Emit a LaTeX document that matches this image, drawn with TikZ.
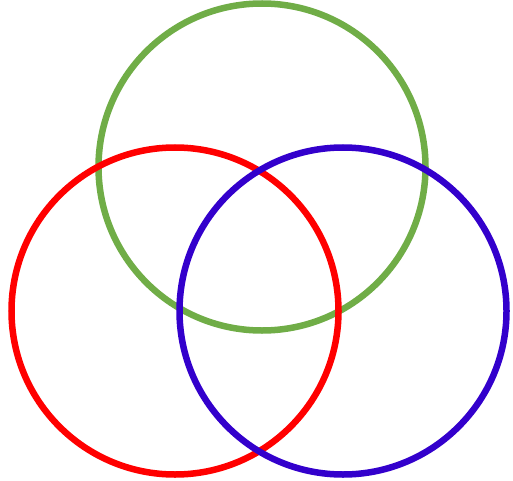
\documentclass[tikz,border=0pt]{standalone}
\definecolor{ringgreen}{RGB}{112,173,71}
\definecolor{ringred}{RGB}{255,0,0}
\definecolor{ringblue}{RGB}{51,0,204}
\begin{document}
\begin{tikzpicture}[
    x=1pt, y=1pt,
    ring/.style={circle, draw, line width=6.5pt, minimum size=327pt, inner sep=0pt}]

\useasboundingbox (0,0) rectangle (513,480);

% top circle
\node[ring, draw=ringgreen] (top) at (262,313) {};
% bottom circles
\node[ring, draw=ringred] (left) at (175,169) {};
\node[ring, draw=ringblue] (right) at (343,169) {};
\end{tikzpicture}
\end{document}
